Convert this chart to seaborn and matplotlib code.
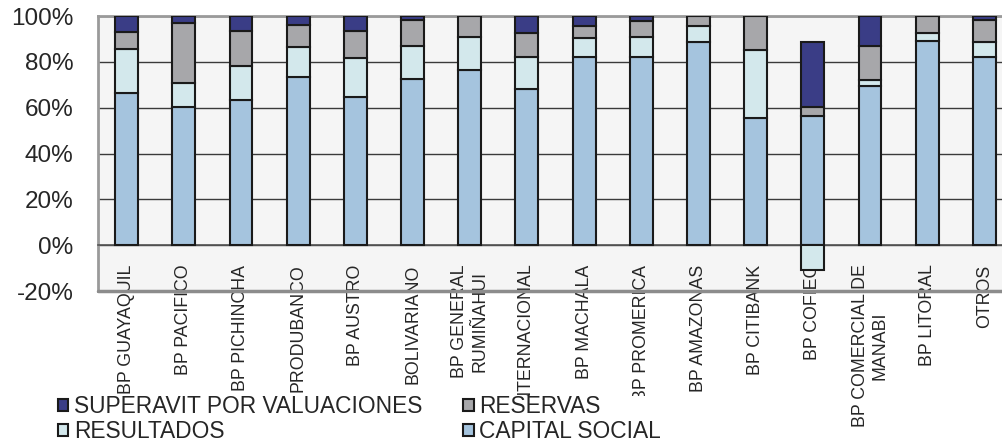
import matplotlib
matplotlib.use("Agg")
import matplotlib.pyplot as plt
from matplotlib.transforms import Bbox, TransformedBbox
import numpy as np
import pandas as pd
import seaborn as sns

# composición del patrimonio por banco (% del total)
bancos = ["BP GUAYAQUIL", "BP PACIFICO", "BP PICHINCHA", "PRODUBANCO", "BP AUSTRO",
          "BOLIVARIANO", "BP GENERAL\nRUMIÑAHUI", "BP INTERNACIONAL", "BP MACHALA",
          "BP PROMERICA", "BP AMAZONAS", "BP CITIBANK", "BP COFIEC",
          "BP COMERCIAL DE\nMANABI", "BP LITORAL", "OTROS"]
capital_social = [66.2, 60.1, 63.3, 73.5, 64.8, 72.4, 76.4, 68.0, 82.2, 82.0, 88.5, 55.3, 56.3, 69.4, 89.2, 82.0]
resultados = [19.2, 10.5, 14.9, 12.8, 16.7, 14.5, 14.6, 14.2, 8.1, 9.0, 7.1, 29.9, -10.8, 2.7, 3.2, 6.8]
reservas = [7.6, 26.2, 15.1, 9.9, 12.1, 11.4, 9.0, 10.2, 5.3, 6.8, 4.4, 14.8, 3.8, 14.8, 7.6, 9.5]
superavit = [7.0, 3.2, 6.7, 3.8, 6.4, 1.7, 0.0, 7.6, 4.4, 2.2, 0.0, 0.0, 28.5, 13.1, 0.0, 1.7]

ytick_vals = [-20, 0, 20, 40, 60, 80, 100]
ytick_labels = ["-20%", "0%", "20%", "40%", "60%", "80%", "100%"]

df = pd.DataFrame({"banco": bancos, "capital": capital_social, "resultados": resultados,
                   "reservas": reservas, "superavit": superavit})

# bases de cada segmento apilado (los negativos parten de cero)
cap = df["capital"].to_numpy()
res = df["resultados"].to_numpy()
res_bottom = np.where(res >= 0, cap, 0)
resv_bottom = cap + np.clip(res, 0, None)
sup_bottom = resv_bottom + df["reservas"].to_numpy()

sns.set_style("white")
plt.rcParams["font.family"] = ["Liberation Sans", "DejaVu Sans"]
plt.rcParams["axes.unicode_minus"] = False

fig = plt.figure(figsize=(10.03, 4.45), dpi=100)
ax = fig.add_axes([98 / 1003, 154 / 445, 915 / 1003, 275 / 445])
ax.set_facecolor("#F5F5F5")

common = dict(x="banco", order=bancos, width=0.4, edgecolor="#1a1a1a", linewidth=1.5,
              errorbar=None, ax=ax, zorder=3)
sns.barplot(data=df, y="capital", color="#9BC5E8", label="CAPITAL SOCIAL", **common)
sns.barplot(data=df, y="resultados", bottom=res_bottom, color="#CFEBF0", label="RESULTADOS", **common)
sns.barplot(data=df, y="reservas", bottom=resv_bottom, color="#A6A7AB", label="RESERVAS", **common)
sns.barplot(data=df, y="superavit", bottom=sup_bottom, color="#2E3192",
            label="SUPERAVIT POR VALUACIONES", **common)
if ax.get_legend() is not None:
    ax.get_legend().remove()

ax.set_xlim(-0.5, 15.5)
ax.set_ylim(-20, 100)
ax.set_xlabel("")
ax.set_ylabel("")
ax.set_yticks(ytick_vals, ytick_labels)
ax.yaxis.grid(True, color="#3a3a3a", linewidth=1)
ax.xaxis.grid(False)
ax.set_axisbelow(True)

for s in ["left", "top"]:
    ax.spines[s].set_color("#9a9a9a")
    ax.spines[s].set_linewidth(2)
ax.spines["right"].set_visible(False)
ax.spines["bottom"].set_position(("data", 0))
ax.spines["bottom"].set_color("#555555")
ax.spines["bottom"].set_linewidth(1.2)
ax.axhline(-20, color="#8c8c8c", linewidth=2.5, clip_on=False, zorder=4)

ax.tick_params(axis="y", length=5.8, width=1, color="#666666", pad=12,
               labelsize=17.5, labelcolor="#262626")
ax.set_xticks(range(len(bancos)), bancos, rotation=90)
ax.set_xticks(np.arange(-0.5, len(bancos), 1), minor=True)
ax.tick_params(axis="x", which="major", length=0, pad=14, labelsize=12.8, labelcolor="#262626")
ax.tick_params(axis="x", which="minor", length=5, width=1, color="#555555", direction="out")
for lbl in ax.get_xticklabels():
    lbl.set_multialignment("center")

c = ax.containers
fig.legend([c[3], c[1], c[2], c[0]],
           ["SUPERAVIT POR VALUACIONES", "RESULTADOS", "RESERVAS", "CAPITAL SOCIAL"],
           ncol=2, loc="upper left", bbox_to_anchor=(58 / 1003, 50 / 445), frameon=False,
           fontsize=16.4, handlelength=0.45, handleheight=0.45, handletextpad=0.25,
           columnspacing=1.8, labelspacing=0.1, borderpad=0, borderaxespad=0)

# las etiquetas largas quedan recortadas como en el original
fig.canvas.draw()
clip = TransformedBbox(Bbox([[0, 49 / 445], [1, 1]]), fig.transFigure)
for i, tick in enumerate(ax.xaxis.get_major_ticks()):
    if i == 13:
        continue
    tick.label1.set_clip_on(True)
    tick.label1.set_clip_box(clip)

fig.savefig("out.png", dpi=100)
